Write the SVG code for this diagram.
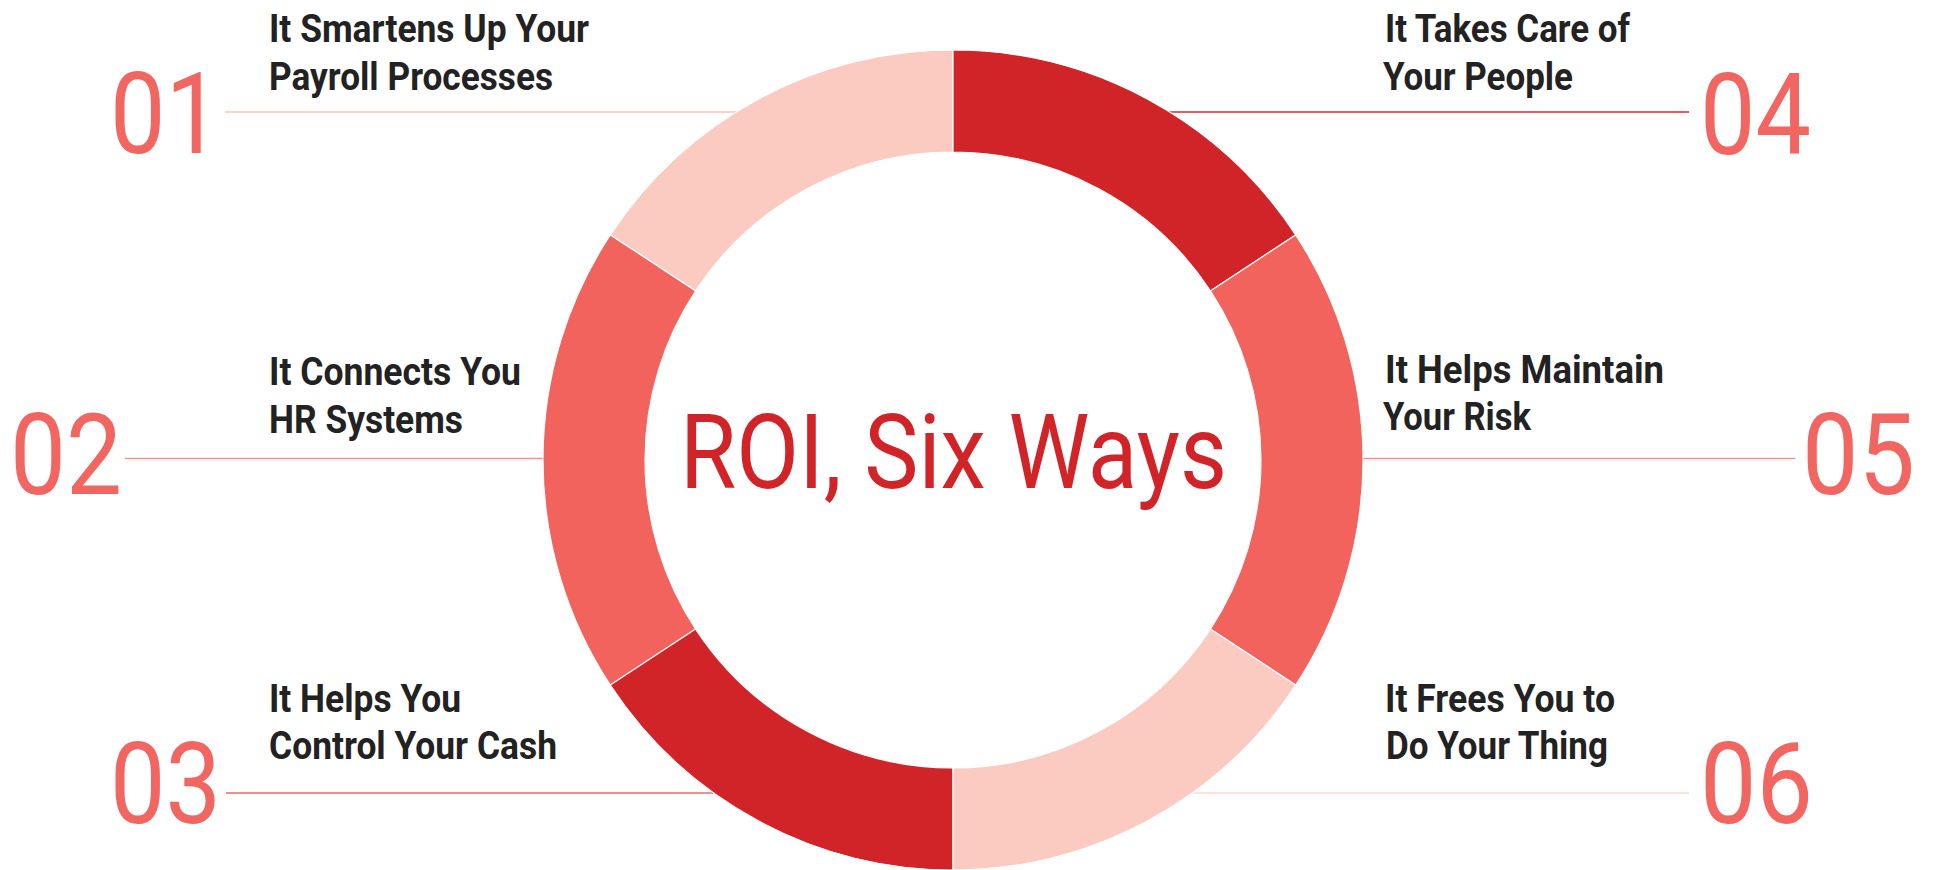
<svg xmlns="http://www.w3.org/2000/svg" width="1942" height="870" viewBox="0 0 1942 870">
<style>
.num{font-family:Roboto,"Liberation Sans",sans-serif;font-weight:400;font-size:114px;fill:#F26661}
.lbl{font-family:Roboto,"Liberation Sans",sans-serif;font-weight:700;font-size:39px;fill:#222222}
.title{font-family:Roboto,"Liberation Sans",sans-serif;font-weight:400;font-size:104px;fill:#D12428}
.seg{stroke:#ffffff;stroke-width:1.2}
.light{fill:#FBCBC2}
.mid{fill:#F2635E}
.dark{fill:#D12428}
.conn{stroke-width:1.6;fill:none}
</style>
<rect width="1942" height="870" fill="#ffffff"/>
<g id="connectors">
<line class="conn" x1="225" y1="112" x2="737" y2="112" stroke="#F9C4BB"/>
<line class="conn" x1="125" y1="458.5" x2="544" y2="458.5" stroke="#F4918C"/>
<line class="conn" x1="226" y1="793" x2="714" y2="793" stroke="#EA6A68"/>
<line class="conn" x1="1169" y1="112" x2="1689" y2="112" stroke="#D42B2E"/>
<line class="conn" x1="1362" y1="458.5" x2="1795" y2="458.5" stroke="#F4918C"/>
<line class="conn" x1="1192" y1="793" x2="1689" y2="793" stroke="#FCD9D2"/>
</g>
<g id="ring">
<path class="seg light" d="M953,50 A410,410 0 0 0 610.3,234.9 L695.6,290.9 A308,308 0 0 1 953,152 Z"/>
<path class="seg mid" d="M610.3,234.9 A410,410 0 0 0 610.3,685.1 L695.6,629.1 A308,308 0 0 1 695.6,290.9 Z"/>
<path class="seg dark" d="M610.3,685.1 A410,410 0 0 0 953,870 L953,768 A308,308 0 0 1 695.6,629.1 Z"/>
<path class="seg dark" d="M953,50 A410,410 0 0 1 1295.7,234.9 L1210.4,290.9 A308,308 0 0 0 953,152 Z"/>
<path class="seg mid" d="M1295.7,234.9 A410,410 0 0 1 1295.7,685.1 L1210.4,629.1 A308,308 0 0 0 1210.4,290.9 Z"/>
<path class="seg light" d="M1295.7,685.1 A410,410 0 0 1 953,870 L953,768 A308,308 0 0 0 1210.4,629.1 Z"/>
</g>
<g id="title">
<text class="title" x="680" y="488" textLength="547" lengthAdjust="spacingAndGlyphs">ROI, Six Ways</text>
</g>
<g id="item-01">
<text class="num" x="110" y="153" textLength="111" lengthAdjust="spacingAndGlyphs">01</text>
<text class="lbl" x="269" y="42" textLength="320" lengthAdjust="spacingAndGlyphs">It Smartens Up Your</text>
<text class="lbl" x="269" y="89.5" textLength="284" lengthAdjust="spacingAndGlyphs">Payroll Processes</text>
</g>
<g id="item-02">
<text class="num" x="10" y="494" textLength="112" lengthAdjust="spacingAndGlyphs">02</text>
<text class="lbl" x="269" y="385" textLength="252" lengthAdjust="spacingAndGlyphs">It Connects You</text>
<text class="lbl" x="269" y="432.5" textLength="194" lengthAdjust="spacingAndGlyphs">HR Systems</text>
</g>
<g id="item-03">
<text class="num" x="110" y="823" textLength="111" lengthAdjust="spacingAndGlyphs">03</text>
<text class="lbl" x="269" y="712" textLength="192" lengthAdjust="spacingAndGlyphs">It Helps You</text>
<text class="lbl" x="269" y="759" textLength="288" lengthAdjust="spacingAndGlyphs">Control Your Cash</text>
</g>
<g id="item-04">
<text class="num" x="1700" y="154" textLength="111" lengthAdjust="spacingAndGlyphs">04</text>
<text class="lbl" x="1385" y="42" textLength="245" lengthAdjust="spacingAndGlyphs">It Takes Care of</text>
<text class="lbl" x="1383" y="89.5" textLength="190" lengthAdjust="spacingAndGlyphs">Your People</text>
</g>
<g id="item-05">
<text class="num" x="1802" y="494" textLength="113" lengthAdjust="spacingAndGlyphs">05</text>
<text class="lbl" x="1385" y="382.5" textLength="279" lengthAdjust="spacingAndGlyphs">It Helps Maintain</text>
<text class="lbl" x="1383" y="430" textLength="148" lengthAdjust="spacingAndGlyphs">Your Risk</text>
</g>
<g id="item-06">
<text class="num" x="1700" y="823" textLength="113" lengthAdjust="spacingAndGlyphs">06</text>
<text class="lbl" x="1385" y="712" textLength="230" lengthAdjust="spacingAndGlyphs">It Frees You to</text>
<text class="lbl" x="1386" y="759" textLength="222" lengthAdjust="spacingAndGlyphs">Do Your Thing</text>
</g>
</svg>
